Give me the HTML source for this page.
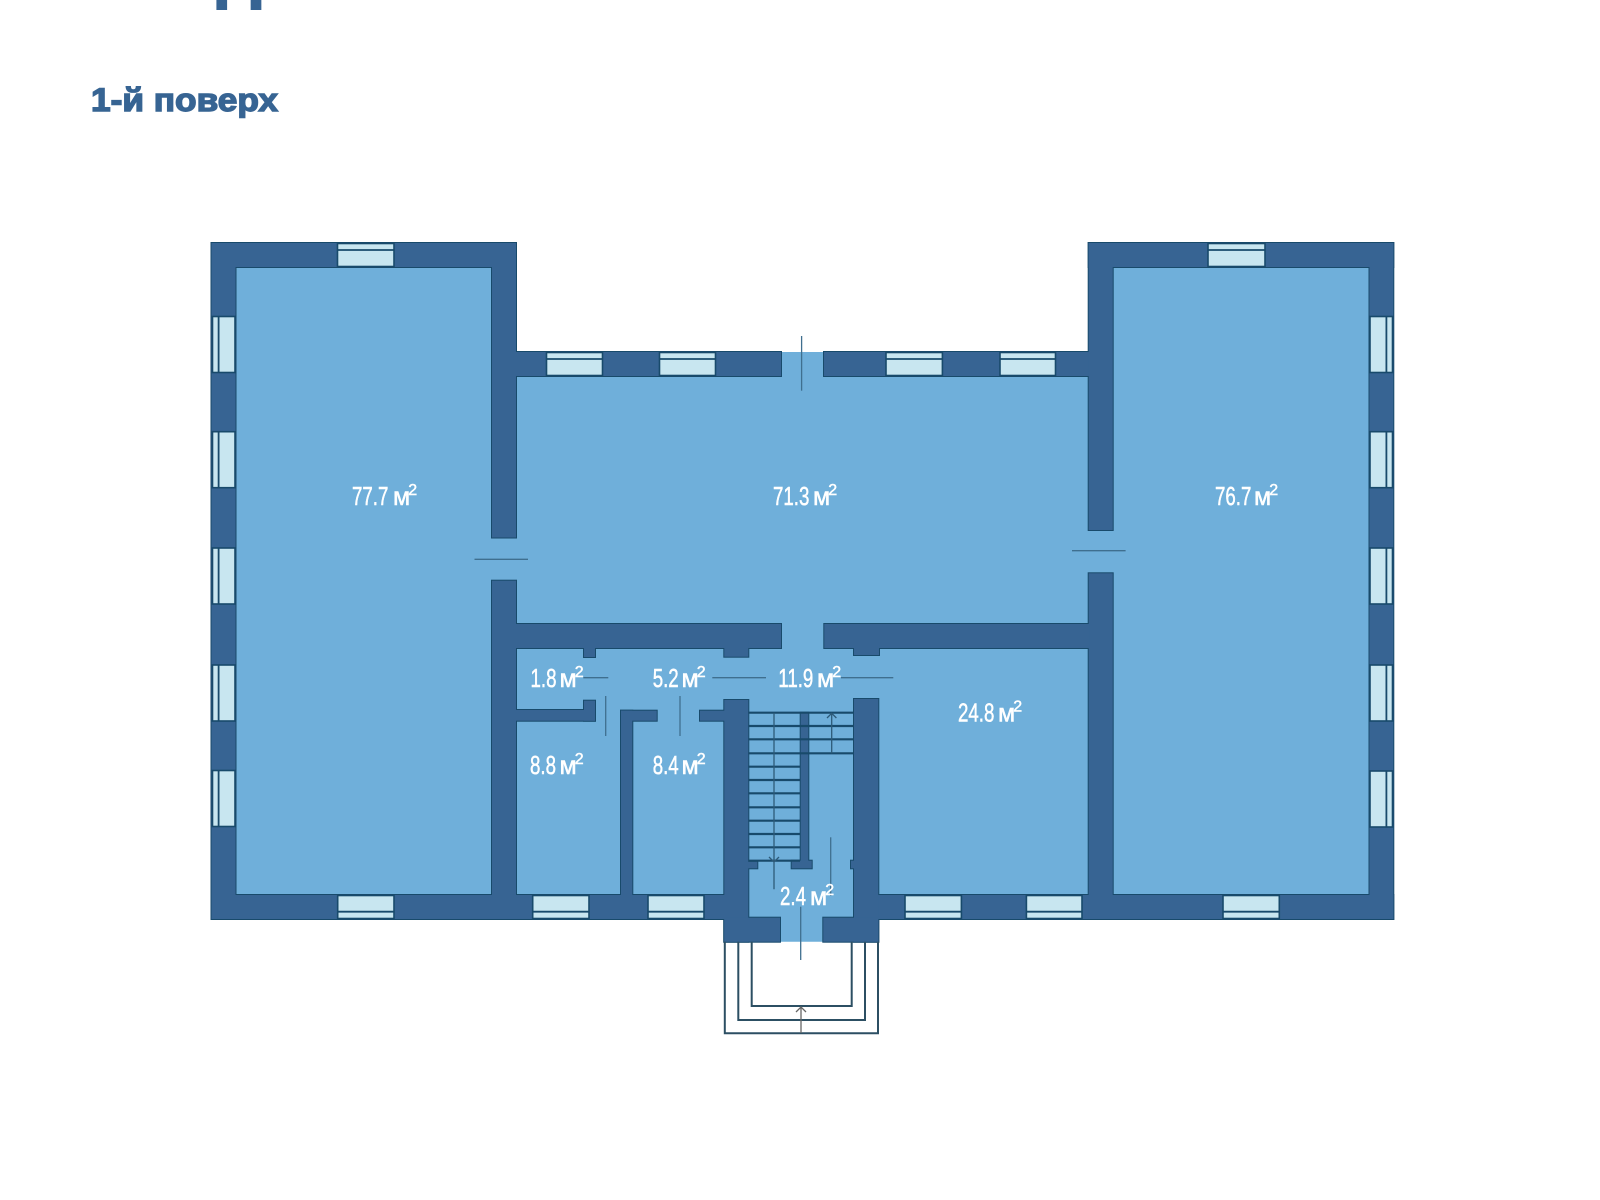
<!DOCTYPE html>
<html><head><meta charset="utf-8"><style>
html,body{margin:0;padding:0;background:#fff}
svg{display:block}
text{font-family:"Liberation Sans",sans-serif}
.n,.m{fill:#fff;stroke:#fff;stroke-width:.5;font-size:26px}
.m{font-size:25px}
.m tspan{font-size:16px}
.d{stroke:#3f6f8f;stroke-width:1.3;fill:none}
.st{stroke:#184a6b;stroke-width:2.2;fill:none}
.win rect{fill:#c8e6f0;stroke:#184a6b;stroke-width:1.6}
.win path{stroke:#184a6b;stroke-width:1.8;fill:none}
</style></head><body>
<svg width="1600" height="1200" viewBox="0 0 1600 1200" xmlns="http://www.w3.org/2000/svg">
<rect width="1600" height="1200" fill="#fff"/>
<text x="214" y="-3" font-size="56" font-weight="bold" fill="#376493" stroke="#376493" stroke-width="3">рр</text>
<text x="91" y="111" font-size="32" font-weight="bold" fill="#376493" stroke="#376493" stroke-width="1.4" textLength="187" lengthAdjust="spacingAndGlyphs">1-й поверх</text>

<!-- floor -->
<path d="M211.5 243H516V352H1088.7V243H1393.3V919H878.3V941.7H724.3V919H211.5Z" fill="#6fafda"/>

<defs>
<g id="w">
<rect x="211.5" y="243" width="304.5" height="24"/>
<rect x="211.5" y="243" width="24" height="676"/>
<rect x="211.5" y="895" width="513" height="24"/>
<rect x="492" y="243" width="24" height="294.5"/>
<rect x="492" y="580.7" width="24" height="338.3"/>
<rect x="516" y="352" width="265" height="24"/>
<rect x="824" y="352" width="265" height="24"/>
<rect x="1088.7" y="243" width="304.6" height="24"/>
<rect x="1369.5" y="243" width="23.8" height="676"/>
<rect x="878" y="895" width="515.3" height="24"/>
<rect x="1088.7" y="243" width="24" height="287"/>
<rect x="1088.7" y="573.3" width="24" height="345.7"/>
<rect x="516" y="624" width="265" height="24"/>
<rect x="824.3" y="624" width="265" height="24"/>
<rect x="584" y="640" width="11" height="17"/>
<rect x="724.3" y="640" width="24" height="16.7"/>
<rect x="854" y="640" width="25" height="15"/>
<rect x="516" y="710" width="79" height="10.7"/>
<rect x="584" y="700.7" width="11" height="20"/>
<rect x="621" y="710.7" width="11.3" height="190"/>
<rect x="621" y="710.7" width="35.7" height="10"/>
<rect x="700" y="710.7" width="30" height="10"/>
<rect x="724.3" y="700" width="24" height="241.7"/>
<rect x="724.3" y="917.7" width="55.7" height="24"/>
<rect x="854" y="699" width="24.3" height="242.7"/>
<rect x="823.3" y="917.7" width="55" height="24"/>
<rect x="800.7" y="712.7" width="7.6" height="150"/>
<rect x="791.7" y="860.7" width="20" height="7.6"/>
<rect x="745" y="861.7" width="12.3" height="6.6"/>
<rect x="851" y="860.7" width="6" height="7.6"/>
</g>
</defs>
<g fill="#184a6b" stroke="#184a6b" stroke-width="2"><use href="#w"/></g>
<g fill="#376493" stroke="none"><use href="#w"/></g>

<!-- windows -->
<g class="win">
<rect x="337.5" y="243.5" width="56.5" height="23"/><path d="M337.5 250H394"/>
<rect x="1208" y="243.5" width="57" height="23"/><path d="M1208 250H1265"/>
<rect x="546.5" y="352.5" width="56" height="23"/><path d="M546.5 359H602.5"/>
<rect x="659.5" y="352.5" width="56" height="23"/><path d="M659.5 359H715.5"/>
<rect x="886" y="352.5" width="56.4" height="23"/><path d="M886 359H942.4"/>
<rect x="1000" y="352.5" width="55.5" height="23"/><path d="M1000 359H1055.5"/>

<rect x="212.5" y="316.5" width="22.5" height="56"/><path d="M218.6 316.5V372.5"/>
<rect x="212.5" y="431.7" width="22.5" height="56"/><path d="M218.6 431.7V487.7"/>
<rect x="212.5" y="548" width="22.5" height="56"/><path d="M218.6 548V604"/>
<rect x="212.5" y="665" width="22.5" height="56"/><path d="M218.6 665V721"/>
<rect x="212.5" y="770.5" width="22.5" height="56"/><path d="M218.6 770.5V826.5"/>

<rect x="1370" y="316.5" width="22.5" height="56"/><path d="M1386.4 316.5V372.5"/>
<rect x="1370" y="431.7" width="22.5" height="56"/><path d="M1386.4 431.7V487.7"/>
<rect x="1370" y="548" width="22.5" height="56"/><path d="M1386.4 548V604"/>
<rect x="1370" y="665" width="22.5" height="56"/><path d="M1386.4 665V721"/>
<rect x="1370" y="771" width="22.5" height="56"/><path d="M1386.4 771V827"/>

<rect x="337.7" y="895.5" width="56.3" height="23"/><path d="M337.7 911.7H394"/>
<rect x="532.7" y="895.5" width="56.3" height="23"/><path d="M532.7 911.7H589"/>
<rect x="648" y="895.5" width="56" height="23"/><path d="M648 911.7H704"/>
<rect x="905" y="895.5" width="56.4" height="23"/><path d="M905 911.7H961.4"/>
<rect x="1026.4" y="895.5" width="55.6" height="23"/><path d="M1026.4 911.7H1082"/>
<rect x="1223" y="895.5" width="56.3" height="23"/><path d="M1223 911.7H1279.3"/>
</g>

<!-- stairs -->
<g class="st">
<path d="M748.3 712.7H854M748.3 726H854M748.3 739.3H854M748.3 753.3H854"/>
<path d="M748.3 766.7H800M748.3 780H800M748.3 793.3H800M748.3 807.3H800M748.3 820.7H800M748.3 834H800M748.3 847.3H800M748.3 860.7H800"/>
</g>
<!-- porch -->
<path d="M724.8 941.7V1033.3H878V941.7M738.3 941.7V1020H865V941.7M751.7 941.7V1006H851.7V941.7" fill="none" stroke="#2c4f63" stroke-width="2"/>

<!-- door swing lines and arrows -->
<g class="d">
<path d="M801.6 336V390.7"/>
<path d="M474.5 559.3H528"/>
<path d="M1072 550.7H1125.6"/>
<path d="M583.3 677.7H608.3"/>
<path d="M605.7 696V736"/>
<path d="M680 696V736"/>
<path d="M712.3 677.7H766"/>
<path d="M841 677.7H893.3"/>
<path d="M774 712.7V889.3M769 857L774 862L779 857" stroke="#2d5a78"/>
<path d="M831.7 713.3V753.3M827 718L831.7 713.3L836.4 718" stroke="#2d5a78"/>
<path d="M830.7 837.3V896"/>
<path d="M800.7 906.7V960"/>
<path d="M801 1007V1033M796 1012L801 1007L806 1012" stroke="#666"/>
</g>

<!-- labels -->
<text class="n" transform="translate(352,505) scale(.72,1)">77.7</text><text class="m" x="393" y="505">м<tspan dx="-2" dy="-10">2</tspan></text>
<text class="n" transform="translate(773,505) scale(.72,1)">71.3</text><text class="m" x="813" y="505">м<tspan dx="-2" dy="-10">2</tspan></text>
<text class="n" transform="translate(1215,505) scale(.72,1)">76.7</text><text class="m" x="1254" y="505">м<tspan dx="-2" dy="-10">2</tspan></text>
<text class="n" transform="translate(530.5,687) scale(.72,1)">1.8</text><text class="m" x="559.5" y="687">м<tspan dx="-2" dy="-10">2</tspan></text>
<text class="n" transform="translate(652.7,687) scale(.72,1)">5.2</text><text class="m" x="681.5" y="687">м<tspan dx="-2" dy="-10">2</tspan></text>
<text class="n" transform="translate(778.3,687) scale(.72,1)">11.9</text><text class="m" x="817" y="687">м<tspan dx="-2" dy="-10">2</tspan></text>
<text class="n" transform="translate(958,721.7) scale(.72,1)">24.8</text><text class="m" x="998" y="721.7">м<tspan dx="-2" dy="-10">2</tspan></text>
<text class="n" transform="translate(530,774) scale(.72,1)">8.8</text><text class="m" x="559.5" y="774">м<tspan dx="-2" dy="-10">2</tspan></text>
<text class="n" transform="translate(652.7,774) scale(.72,1)">8.4</text><text class="m" x="681.5" y="774">м<tspan dx="-2" dy="-10">2</tspan></text>
<text class="n" transform="translate(780,905) scale(.72,1)">2.4</text><text class="m" x="810" y="905">м<tspan dx="-2" dy="-10">2</tspan></text>
</svg>
</body></html>
